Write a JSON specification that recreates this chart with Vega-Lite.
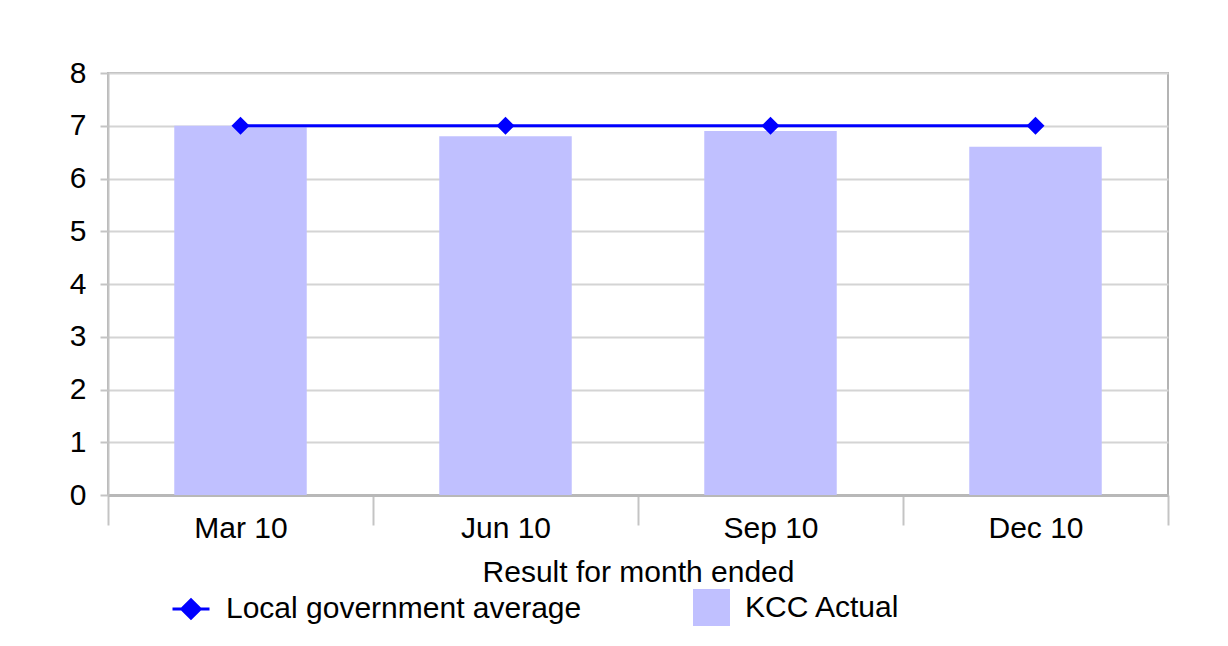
{
  "$schema": "https://vega.github.io/schema/vega-lite/v6.json",
  "width": 1060,
  "height": 422,
  "autosize": {"type": "none"},
  "padding": {"left": 108, "top": 73, "right": 60, "bottom": 151},
  "background": "white",
  "data": {
    "values": [
      {"month": "Mar 10", "actual": 7.0, "average": 7.0},
      {"month": "Jun 10", "actual": 6.8, "average": 7.0},
      {"month": "Sep 10", "actual": 6.9, "average": 7.0},
      {"month": "Dec 10", "actual": 6.6, "average": 7.0}
    ]
  },
  "config": {
    "font": "Liberation Sans",
    "view": {"stroke": "#B4B4B4", "strokeWidth": 2},
    "axis": {
      "labelFont": "Liberation Sans",
      "labelFontSize": 30,
      "labelColor": "#000000",
      "titleFont": "Liberation Sans",
      "titleFontSize": 30,
      "titleFontWeight": "normal",
      "titleColor": "#000000",
      "domainColor": "#B8B8B8",
      "tickColor": "#C4C4C4",
      "gridColor": "#D4D4D4",
      "gridWidth": 2,
      "tickWidth": 2
    },
    "legend": {
      "labelFont": "Liberation Sans",
      "labelFontSize": 30,
      "labelColor": "#000000",
      "labelLimit": 0,
      "padding": 0
    }
  },
  "encoding": {
    "x": {
      "field": "month",
      "type": "ordinal",
      "sort": null,
      "scale": {"paddingInner": 0, "paddingOuter": 0},
      "axis": {
        "title": "Result for month ended",
        "labelAngle": 0,
        "tickBand": "extent",
        "tickSize": 30,
        "labelPadding": -12,
        "titlePadding": 14,
        "domainWidth": 3,
        "grid": false
      }
    }
  },
  "layer": [
    {
      "mark": {"type": "bar", "width": {"band": 0.5}},
      "encoding": {
        "y": {
          "field": "actual",
          "type": "quantitative",
          "scale": {"domain": [0, 8], "nice": false},
          "axis": {
            "title": null,
            "values": [0, 1, 2, 3, 4, 5, 6, 7, 8],
            "tickSize": 8,
            "labelPadding": 14,
            "domainWidth": 2,
            "domainColor": "#C4C4C4"
          }
        },
        "fill": {
          "datum": "KCC Actual",
          "scale": {"range": ["#C0C0FF"]},
          "legend": {
            "title": null,
            "orient": "none",
            "legendX": 585,
            "legendY": 516,
            "symbolType": "square",
            "symbolSize": 1369,
            "symbolStrokeWidth": 0,
            "labelOffset": 15
          }
        }
      }
    },
    {
      "mark": {"type": "line", "strokeWidth": 3},
      "encoding": {
        "y": {"field": "average", "type": "quantitative"},
        "stroke": {
          "datum": "Local government average",
          "scale": {"range": ["#0000FF"]},
          "legend": {
            "title": null,
            "orient": "none",
            "legendX": 63,
            "legendY": 516,
            "symbolType": "M-1,0L1,0M-0.5,0L0,-0.5L0.5,0L0,0.5Z",
            "symbolSize": 1369,
            "symbolStrokeWidth": 3,
            "symbolFillColor": "#0000FF",
            "labelOffset": 15,
            "encode": {
              "symbols": {"update": {"fill": {"value": "#0000FF"}, "stroke": {"value": "#0000FF"}}}
            }
          }
        }
      }
    },
    {
      "mark": {"type": "point", "shape": "diamond", "filled": true, "color": "#0000FF", "size": 324, "opacity": 1},
      "encoding": {
        "y": {"field": "average", "type": "quantitative"}
      }
    }
  ]
}
